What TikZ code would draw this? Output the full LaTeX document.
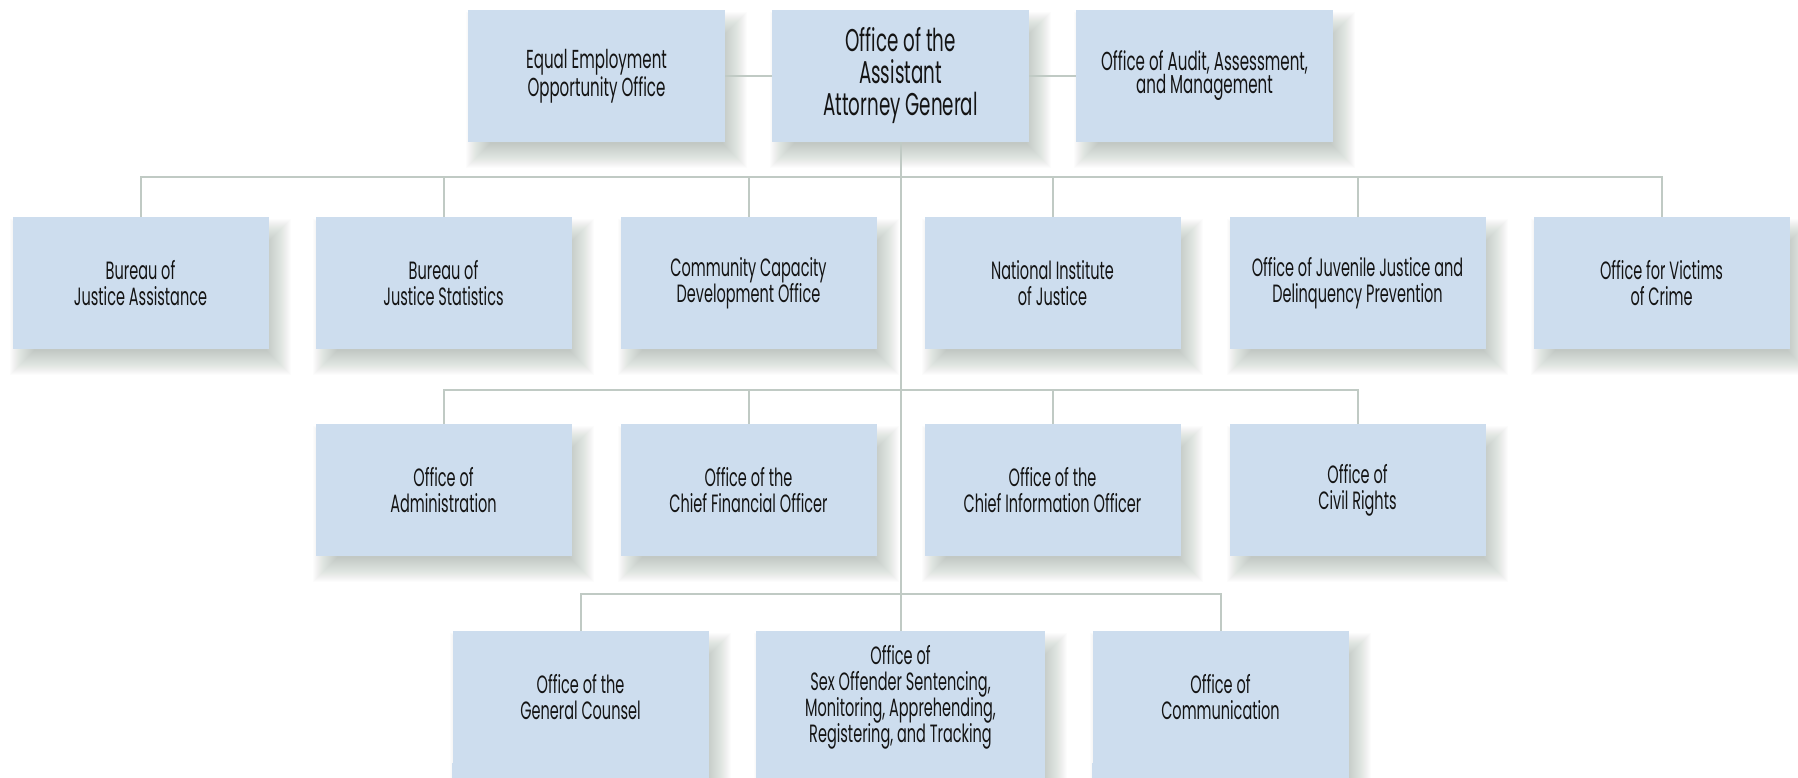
\documentclass[tikz,border=0pt]{standalone}
\usepackage{fontspec}
\setmainfont{Poppins}[FakeStretch=0.58]
\usetikzlibrary{calc}
\pgfdeclarelayer{shad}
\pgfdeclarelayer{lines}
\pgfsetlayers{shad,lines,main}
\definecolor{boxc}{HTML}{CDDDEE}
\definecolor{linec}{HTML}{C0CAC4}
\definecolor{shadc}{HTML}{7A8C80}
\definecolor{txtc}{HTML}{141414}
\tikzset{
  org/.style={rectangle, fill=boxc, minimum width=256pt, minimum height=132pt,
    inner sep=0pt, align=center, text=txtc, font=\fontsize{25pt}{26pt}\selectfont},
  topbox/.style={org, minimum width=257pt, font=\fontsize{26pt}{23pt}\selectfont},
  headbox/.style={org, minimum width=257pt, font=\fontsize{31.5pt}{32pt}\selectfont},
  conn/.style={draw=linec, line width=2pt},
}
\newcommand\softshadow[2]{%
  \foreach \e in {-12,-11,...,12}{%
    \fill[shadc,opacity=0.02] ($(#1.north west)+(10-\e,14-\e)$) rectangle ($(#1.south east)+(10+\e,14+\e+#2)$);
  }%
}
\begin{document}
\begin{tikzpicture}[x=1pt,y=-1pt]
\useasboundingbox (0,0) rectangle (1798,778);
% top row
\node[topbox]  (eeo)   at (596.5,76) {Equal Employment\\Opportunity Office};
\node[headbox] (aag)   at (900.5,76) {Office of the\\Assistant\\Attorney General};
\node[topbox]  (audit) at (1204.5,76) {Office of Audit, Assessment,\\and Management};
% second row
\node[org] (bja)  at (140.5,283)  {Bureau of\\Justice Assistance};
\node[org] (bjs)  at (443.5,283)  {Bureau of\\Justice Statistics};
\node[org] (ccdo) at (748.5,283)  {Community Capacity\\Development Office};
\node[org] (nij)  at (1052.5,283) {National Institute\\of Justice};
\node[org] (ojj)  at (1357.5,283) {Office of Juvenile Justice and\\Delinquency Prevention};
\node[org] (ovc)  at (1661.5,283) {Office for Victims\\of Crime};
% third row
\node[org] (adm) at (443.5,490)  {Office of\\Administration};
\node[org] (cfo) at (748.5,490)  {Office of the\\Chief Financial Officer};
\node[org] (cio) at (1052.5,490) {Office of the\\Chief Information Officer};
\node[org] (civ) at (1357.5,490) {Office of\\Civil Rights};
% fourth row
\node[org] (gc)  at (580.5,697) {Office of the\\General Counsel};
\node[org, minimum width=289pt] (so) at (900.5,697) {Office of\\Sex Offender Sentencing,\\Monitoring, Apprehending,\\Registering, and Tracking};
\node[org] (com) at (1220.5,697) {Office of\\Communication};
\foreach \n in {gc,so,com}{
  \fill[boxc] (\n.south west) rectangle ($(\n.south east)+(0,30)$);
}
\begin{pgfonlayer}{shad}
  \fill[white] (0,0) rectangle (1798,778);
  \foreach \n in {eeo,aag,audit,bja,bjs,ccdo,nij,ojj,ovc,adm,cfo,cio,civ}{\softshadow{\n}{0}}
  \foreach \n in {gc,so,com}{\softshadow{\n}{30}}
\end{pgfonlayer}
\begin{pgfonlayer}{lines}
  \draw[conn] (eeo.east) -- (aag.west);
  \draw[conn] (aag.east) -- (audit.west);
  \draw[conn] (aag.south) -- (so.north);
  \draw[conn] (bja.north) -- ++(0,-40) -| (ovc.north);
  \foreach \n in {bjs,ccdo,nij,ojj}{\draw[conn] (\n.north) -- ++(0,-40);}
  \draw[conn] (adm.north) -- ++(0,-34) -| (civ.north);
  \foreach \n in {cfo,cio}{\draw[conn] (\n.north) -- ++(0,-34);}
  \draw[conn] (gc.north) -- ++(0,-37) -| (com.north);
\end{pgfonlayer}
\end{tikzpicture}
\end{document}
